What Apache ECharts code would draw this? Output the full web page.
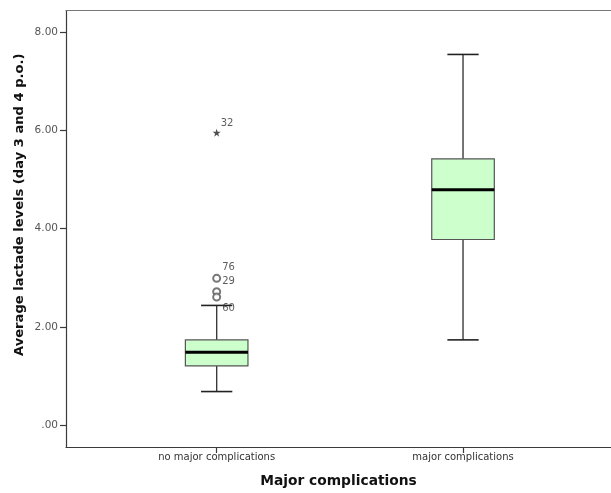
<!DOCTYPE html>
<html>
<head>
<meta charset="utf-8">
<script src="https://cdn.jsdelivr.net/npm/echarts@6/dist/echarts.min.js"></script>
<style>
html,body{margin:0;padding:0;background:#fff;}
#c{width:611px;height:493px;}
</style>
</head>
<body>
<div id="c"></div>
<script>
// ---- data ----
const categories = ['no major complications', 'major complications'];
// [min whisker, Q1, median, Q3, max whisker]
const boxNoMajor = [0.70, 1.22, 1.50, 1.75, 2.45];
const boxMajor = [1.75, 3.79, 4.80, 5.43, 7.55];
// outliers (circles) in group 0
const outlierValues = [3.00, 2.73, 2.62];
const outlierIds = ['76', '29', '60'];
// extreme values (stars) in group 0
const extremeValues = [5.96];
const extremeIds = ['32'];
const yTickValues = [0, 2, 4, 6, 8];
const yTickLabels = ['.00', '2.00', '4.00', '6.00', '8.00'];
const xTitle = 'Major complications';
const yTitle = 'Average lactade levels (day 3 and 4 p.o.)';

// ---- styling maps (not data) ----
const outlierLabelOffsets = {'76': [0, -11], '29': [0, -10], '60': [0, 11]};
const extremeLabelOffsets = {'32': [0, -9]};

const Y_MIN = -0.447, Y_MAX = 8.443;
const FONT = 'DejaVu Sans';
const LINE = '#3a3a3a';

const boxData = [
  [0].concat(boxNoMajor),
  [1].concat(boxMajor)
];

const outlierData = outlierValues.map((v, i) => ({
  value: [0, v],
  name: outlierIds[i],
  label: {offset: outlierLabelOffsets[outlierIds[i]]}
}));
const extremeData = extremeValues.map((v, i) => ({
  value: [0, v],
  name: extremeIds[i],
  label: {offset: extremeLabelOffsets[extremeIds[i]]}
}));

const starPath = 'path://M50,0 L61.8,35.1 L98.9,35.1 L68.9,56.7 L80.3,91.8 L50,70 L19.7,91.8 L31.1,56.7 L1.1,35.1 L38.2,35.1 Z';

const chart = echarts.init(document.getElementById('c'), null, {renderer: 'canvas'});
chart.setOption({
  backgroundColor: '#ffffff',
  animation: false,
  textStyle: {fontFamily: FONT},
  grid: [
    {left: 66, right: 0, top: 10.5, bottom: 45, containLabel: false},
    {left: 93.5, right: 24.8, top: 10.5, bottom: 45, containLabel: false}
  ],
  xAxis: [
    {
      gridIndex: 0, type: 'value', min: 0, max: 1, position: 'bottom',
      axisLine: {show: true, onZero: false, lineStyle: {color: LINE, width: 1.2}},
      axisTick: {show: false}, axisLabel: {show: false}, splitLine: {show: false},
      name: xTitle, nameLocation: 'middle', nameGap: 27, nameMoveOverlap: false,
      nameTextStyle: {fontFamily: FONT, fontWeight: 'bold', fontSize: 13.8, color: '#111'}
    },
    {
      gridIndex: 0, type: 'value', min: 0, max: 1, position: 'top',
      axisLine: {show: true, onZero: false, lineStyle: {color: '#777', width: 1.2}},
      axisTick: {show: false}, axisLabel: {show: false}, splitLine: {show: false}
    },
    {
      gridIndex: 1, type: 'category', data: categories, boundaryGap: true, position: 'bottom',
      axisLine: {show: false, onZero: false},
      axisTick: {show: true, alignWithLabel: true, interval: 0, length: 5, lineStyle: {color: LINE, width: 1.2}},
      axisLabel: {show: true, interval: 0, margin: 4, fontFamily: FONT, fontSize: 10, color: '#333'},
      splitLine: {show: false}
    }
  ],
  yAxis: [
    {
      gridIndex: 0, type: 'value', min: Y_MIN, max: Y_MAX,
      axisLine: {show: true, onZero: false, lineStyle: {color: LINE, width: 1.2}},
      axisTick: {show: true, length: 6, customValues: yTickValues, lineStyle: {color: LINE, width: 1.2}},
      axisLabel: {
        show: true, customValues: yTickValues, margin: 8,
        fontFamily: FONT, fontSize: 10.5, color: '#555',
        formatter: function (v) {
          const i = yTickValues.indexOf(Math.round(v * 1000) / 1000);
          return i >= 0 ? yTickLabels[i] : '';
        }
      },
      splitLine: {show: false},
      name: yTitle, nameLocation: 'middle', nameGap: 40, nameRotate: 90, nameMoveOverlap: false,
      nameTextStyle: {fontFamily: FONT, fontWeight: 'bold', fontSize: 13.1, color: '#111', padding: [0, 0, 0, 48]}
    },
    {
      gridIndex: 1, type: 'value', min: Y_MIN, max: Y_MAX, show: false
    }
  ],
  series: [
    {
      type: 'custom',
      xAxisIndex: 2, yAxisIndex: 1,
      data: boxData,
      encode: {x: 0, y: [1, 2, 3, 4, 5]},
      renderItem: function (params, api) {
        const cx = api.value(0);
        const pLo = api.coord([cx, api.value(1)]);
        const pQ1 = api.coord([cx, api.value(2)]);
        const pMed = api.coord([cx, api.value(3)]);
        const pQ3 = api.coord([cx, api.value(4)]);
        const pHi = api.coord([cx, api.value(5)]);
        const band = api.size([1, 0])[0];
        const bw = band * 0.254;
        const cap = bw / 2;
        const x = pMed[0];
        const ls = {stroke: LINE, lineWidth: 1.4};
        return {
          type: 'group',
          children: [
            {type: 'line', shape: {x1: x, y1: pLo[1], x2: x, y2: pQ1[1]}, style: ls},
            {type: 'line', shape: {x1: x, y1: pQ3[1], x2: x, y2: pHi[1]}, style: ls},
            {type: 'line', shape: {x1: x - cap / 2, y1: pLo[1], x2: x + cap / 2, y2: pLo[1]}, style: {stroke: '#222', lineWidth: 1.6}},
            {type: 'line', shape: {x1: x - cap / 2, y1: pHi[1], x2: x + cap / 2, y2: pHi[1]}, style: {stroke: '#222', lineWidth: 1.6}},
            {type: 'rect', shape: {x: x - bw / 2, y: pQ3[1], width: bw, height: pQ1[1] - pQ3[1]},
              style: {fill: '#ccffcc', stroke: '#555', lineWidth: 1.2}},
            {type: 'line', shape: {x1: x - bw / 2, y1: pMed[1], x2: x + bw / 2, y2: pMed[1]}, style: {stroke: '#000', lineWidth: 3}}
          ]
        };
      }
    },
    {
      type: 'scatter',
      xAxisIndex: 2, yAxisIndex: 1,
      data: outlierData,
      symbol: 'emptyCircle', symbolSize: 7,
      itemStyle: {color: '#555', borderColor: '#555', borderWidth: 1},
      label: {show: true, position: 'right', distance: 1, formatter: '{b}', fontFamily: FONT, fontSize: 10, color: '#333'}
    },
    {
      type: 'scatter',
      xAxisIndex: 2, yAxisIndex: 1,
      data: extremeData,
      symbol: starPath, symbolSize: 8,
      itemStyle: {color: '#222'},
      label: {show: true, position: 'right', distance: 0, formatter: '{b}', fontFamily: FONT, fontSize: 10, color: '#333'}
    }
  ]
});
</script>
</body>
</html>
